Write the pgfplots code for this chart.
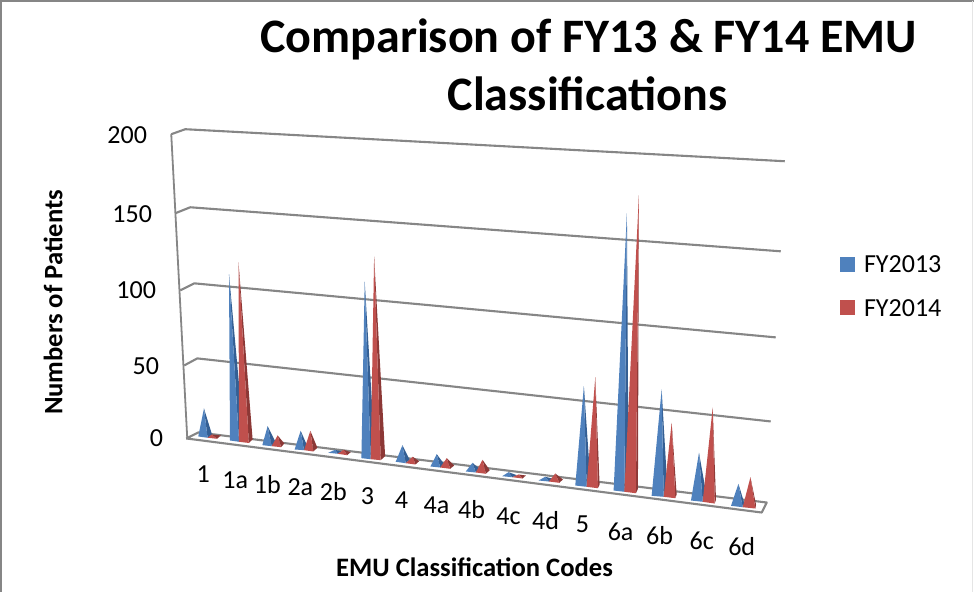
\documentclass[border=0pt]{standalone}
\usepackage{pgfplots}
\pgfplotsset{compat=1.18}
\usepackage{fontspec}
\setmainfont{Carlito}
\definecolor{bf}{HTML}{4F81BD}
\definecolor{bs}{HTML}{345F94}
\definecolor{rf}{HTML}{C0504D}
\definecolor{rs}{HTML}{8C3836}
\definecolor{gr}{HTML}{868686}
\newcommand{\pyr}[6]{%
  \addplot[fill=#2,draw=none,forget plot] coordinates {#4#5#6};
  \addplot[fill=#1,draw=none,forget plot] coordinates {#3#4#6};
}
\newcommand{\gl}[1]{\addplot[draw=gr,line width=2.1pt,line join=round,forget plot] coordinates {#1};}
\newcommand{\lab}[4][]{\node[font=\fontsize{#4}{#4}\selectfont,#1] at (axis cs:#2) {#3};}
\begin{document}
\begin{tikzpicture}
\begin{axis}[
  scale only axis, width=975pt, height=592pt,
  xmin=0, xmax=975, ymin=0, ymax=592, y dir=reverse,
  hide axis, clip=false,
]
% frame
\addplot[draw=gr,line width=2.2pt,forget plot] coordinates {(3,592)(3,2)(975,2)};
\addplot[draw=gray!20,line width=1pt,forget plot] coordinates {(974,2)(974,592)};
% gridlines and walls
\addplot[draw=gr,line width=1.8pt,forget plot] coordinates {(173,135)(189,439)};
\gl{(173,135)(187,130)(786,162)}
\gl{(177,214)(192,208)(782,252)}
\gl{(182,291)(196,284)(777,338)}
\gl{(186,366)(199,359)(772,422)}
% floor
\addplot[draw=gr,fill=white,line width=2.1pt,line join=round,forget plot] coordinates {(188,439)(763,513)(768,503)(200,433)(188,439)};
% pyramids FY2013 and FY2014
\pyr{bf}{bs}{(200,437)}{(209.3,438.3)}{(214,436)}{(205.7,409)}
\pyr{rf}{rs}{(209.3,438.3)}{(218.7,439.3)}{(222.7,436)}{(213.3,435)}
\pyr{bf}{bs}{(231.7,441)}{(240.7,442.3)}{(245.7,439)}{(230.7,275)}
\pyr{rf}{rs}{(240.7,442.3)}{(250.5,443.5)}{(254.3,440)}{(240.2,263.3)}
\pyr{bf}{bs}{(264,445.7)}{(273.3,446.7)}{(277.3,442.7)}{(269.3,426.7)}
\pyr{rf}{rs}{(273.3,446.7)}{(282.7,447.7)}{(286,444)}{(279.3,436)}
\pyr{bf}{bs}{(296.3,450)}{(305.7,450.7)}{(309.3,447.3)}{(302.3,431.3)}
\pyr{rf}{rs}{(305.7,450.7)}{(315,452)}{(319,448.3)}{(312,431.3)}
\pyr{bf}{bs}{(330,453.3)}{(339.3,454.3)}{(343.3,452)}{(336.7,450.3)}
\pyr{rf}{rs}{(339.3,454.3)}{(348.7,455.7)}{(352.3,452.7)}{(345.3,450.3)}
\pyr{bf}{bs}{(363,458.7)}{(372.3,459.7)}{(376.7,456)}{(366.3,282.3)}
\pyr{rf}{rs}{(372.3,459.7)}{(382.3,460.7)}{(386.7,456.7)}{(375.7,257.3)}
\pyr{bf}{bs}{(397.3,462.3)}{(407.3,463.7)}{(411.3,460.3)}{(404,445.7)}
\pyr{rf}{rs}{(407.3,463.7)}{(417,465)}{(420.7,461.7)}{(414.3,457.3)}
\pyr{bf}{bs}{(432,467)}{(441.7,468)}{(446,465)}{(438.3,454.7)}
\pyr{rf}{rs}{(441.7,468)}{(451.7,469.3)}{(455.7,466)}{(448.3,458.7)}
\pyr{bf}{bs}{(467.3,472)}{(477.3,473)}{(481.7,470)}{(474,463.3)}
\pyr{rf}{rs}{(477.3,473)}{(487.3,474.3)}{(491.3,470.7)}{(484,460.3)}
\pyr{bf}{bs}{(503.7,476.7)}{(513.7,477.7)}{(518.3,475.7)}{(510,472.7)}
\pyr{rf}{rs}{(513.7,477.7)}{(524,479)}{(527.3,476)}{(520,475)}
\pyr{bf}{bs}{(540,481)}{(550.3,482)}{(555,479.3)}{(546.7,477.3)}
\pyr{rf}{rs}{(550.3,482)}{(560.7,483.3)}{(564.3,480)}{(556.7,474)}
\pyr{bf}{bs}{(576.7,486)}{(588,487.3)}{(592,484)}{(585.3,386.7)}
\pyr{rf}{rs}{(588,487.3)}{(599.3,488.7)}{(601,485)}{(596.7,377.7)}
\pyr{bf}{bs}{(615,491)}{(625.7,492.3)}{(630,488.3)}{(628.3,214)}
\pyr{rf}{rs}{(625.7,492.3)}{(637.3,493.7)}{(639.3,489.3)}{(640.3,196)}
\pyr{bf}{bs}{(653,496.3)}{(665,497.3)}{(669,493.3)}{(663,390)}
\pyr{rf}{rs}{(665,497.3)}{(676.7,498.7)}{(678,495)}{(673,423.3)}
\pyr{bf}{bs}{(692.3,501)}{(704,502.3)}{(708.3,498.3)}{(700.3,453.3)}
\pyr{rf}{rs}{(704,502.3)}{(716,504)}{(717.3,500)}{(714,408.3)}
\pyr{bf}{bs}{(732.3,506.3)}{(744,507.7)}{(746,505)}{(739.7,484.3)}
\pyr{rf}{rs}{(744,507.7)}{(756.7,509)}{(757.3,505)}{(751.7,477.7)}
% legend swatches
\addplot[fill=bf,draw=none,forget plot] coordinates {(841,258)(856,258)(856,273)(841,273)};
\addplot[fill=rf,draw=none,forget plot] coordinates {(841,301)(856,301)(856,316)(841,316)};
% title
\lab[font=\fontsize{48}{48}\selectfont\bfseries,anchor=base]{590,53}{Comparison of FY13 \& FY14 EMU}{48}
\lab[font=\fontsize{48}{48}\selectfont\bfseries,anchor=base]{589,111}{Classifications}{48}
% y ticks
\lab[anchor=east,inner sep=0pt]{149,136}{200}{26}
\lab[anchor=east,inner sep=0pt]{154,215}{150}{26}
\lab[anchor=east,inner sep=0pt]{158,291}{100}{26}
\lab[anchor=east,inner sep=0pt]{161,367}{50}{26}
\lab[anchor=east,inner sep=0pt]{165,439}{0}{26}
% x tick labels
\lab{205,475}{1}{26}
\lab{237,481}{1a}{26}
\lab{269,485}{1b}{26}
\lab{302,488}{2a}{26}
\lab{335,492}{2b}{26}
\lab{369,497}{3}{26}
\lab{403,501}{4}{26}
\lab{438,506}{4a}{26}
\lab{473,510}{4b}{26}
\lab{510,517}{4c}{26}
\lab{547,521}{4d}{26}
\lab{584,525}{5}{26}
\lab{622,532}{6a}{26}
\lab{661,536}{6b}{26}
\lab{703,541}{6c}{26}
\lab{743,547}{6d}{26}
% axis titles
\lab[font=\fontsize{26.6}{26.6}\selectfont\bfseries]{476,568}{EMU Classification Codes}{26.6}
\lab[font=\fontsize{26.6}{26.6}\selectfont\bfseries,rotate=90]{55,303}{Numbers of Patients}{26.6}
% legend text
\lab[anchor=west,inner sep=0pt]{865,265}{FY2013}{26}
\lab[anchor=west,inner sep=0pt]{865,309}{FY2014}{26}
\end{axis}
\end{tikzpicture}
\end{document}
